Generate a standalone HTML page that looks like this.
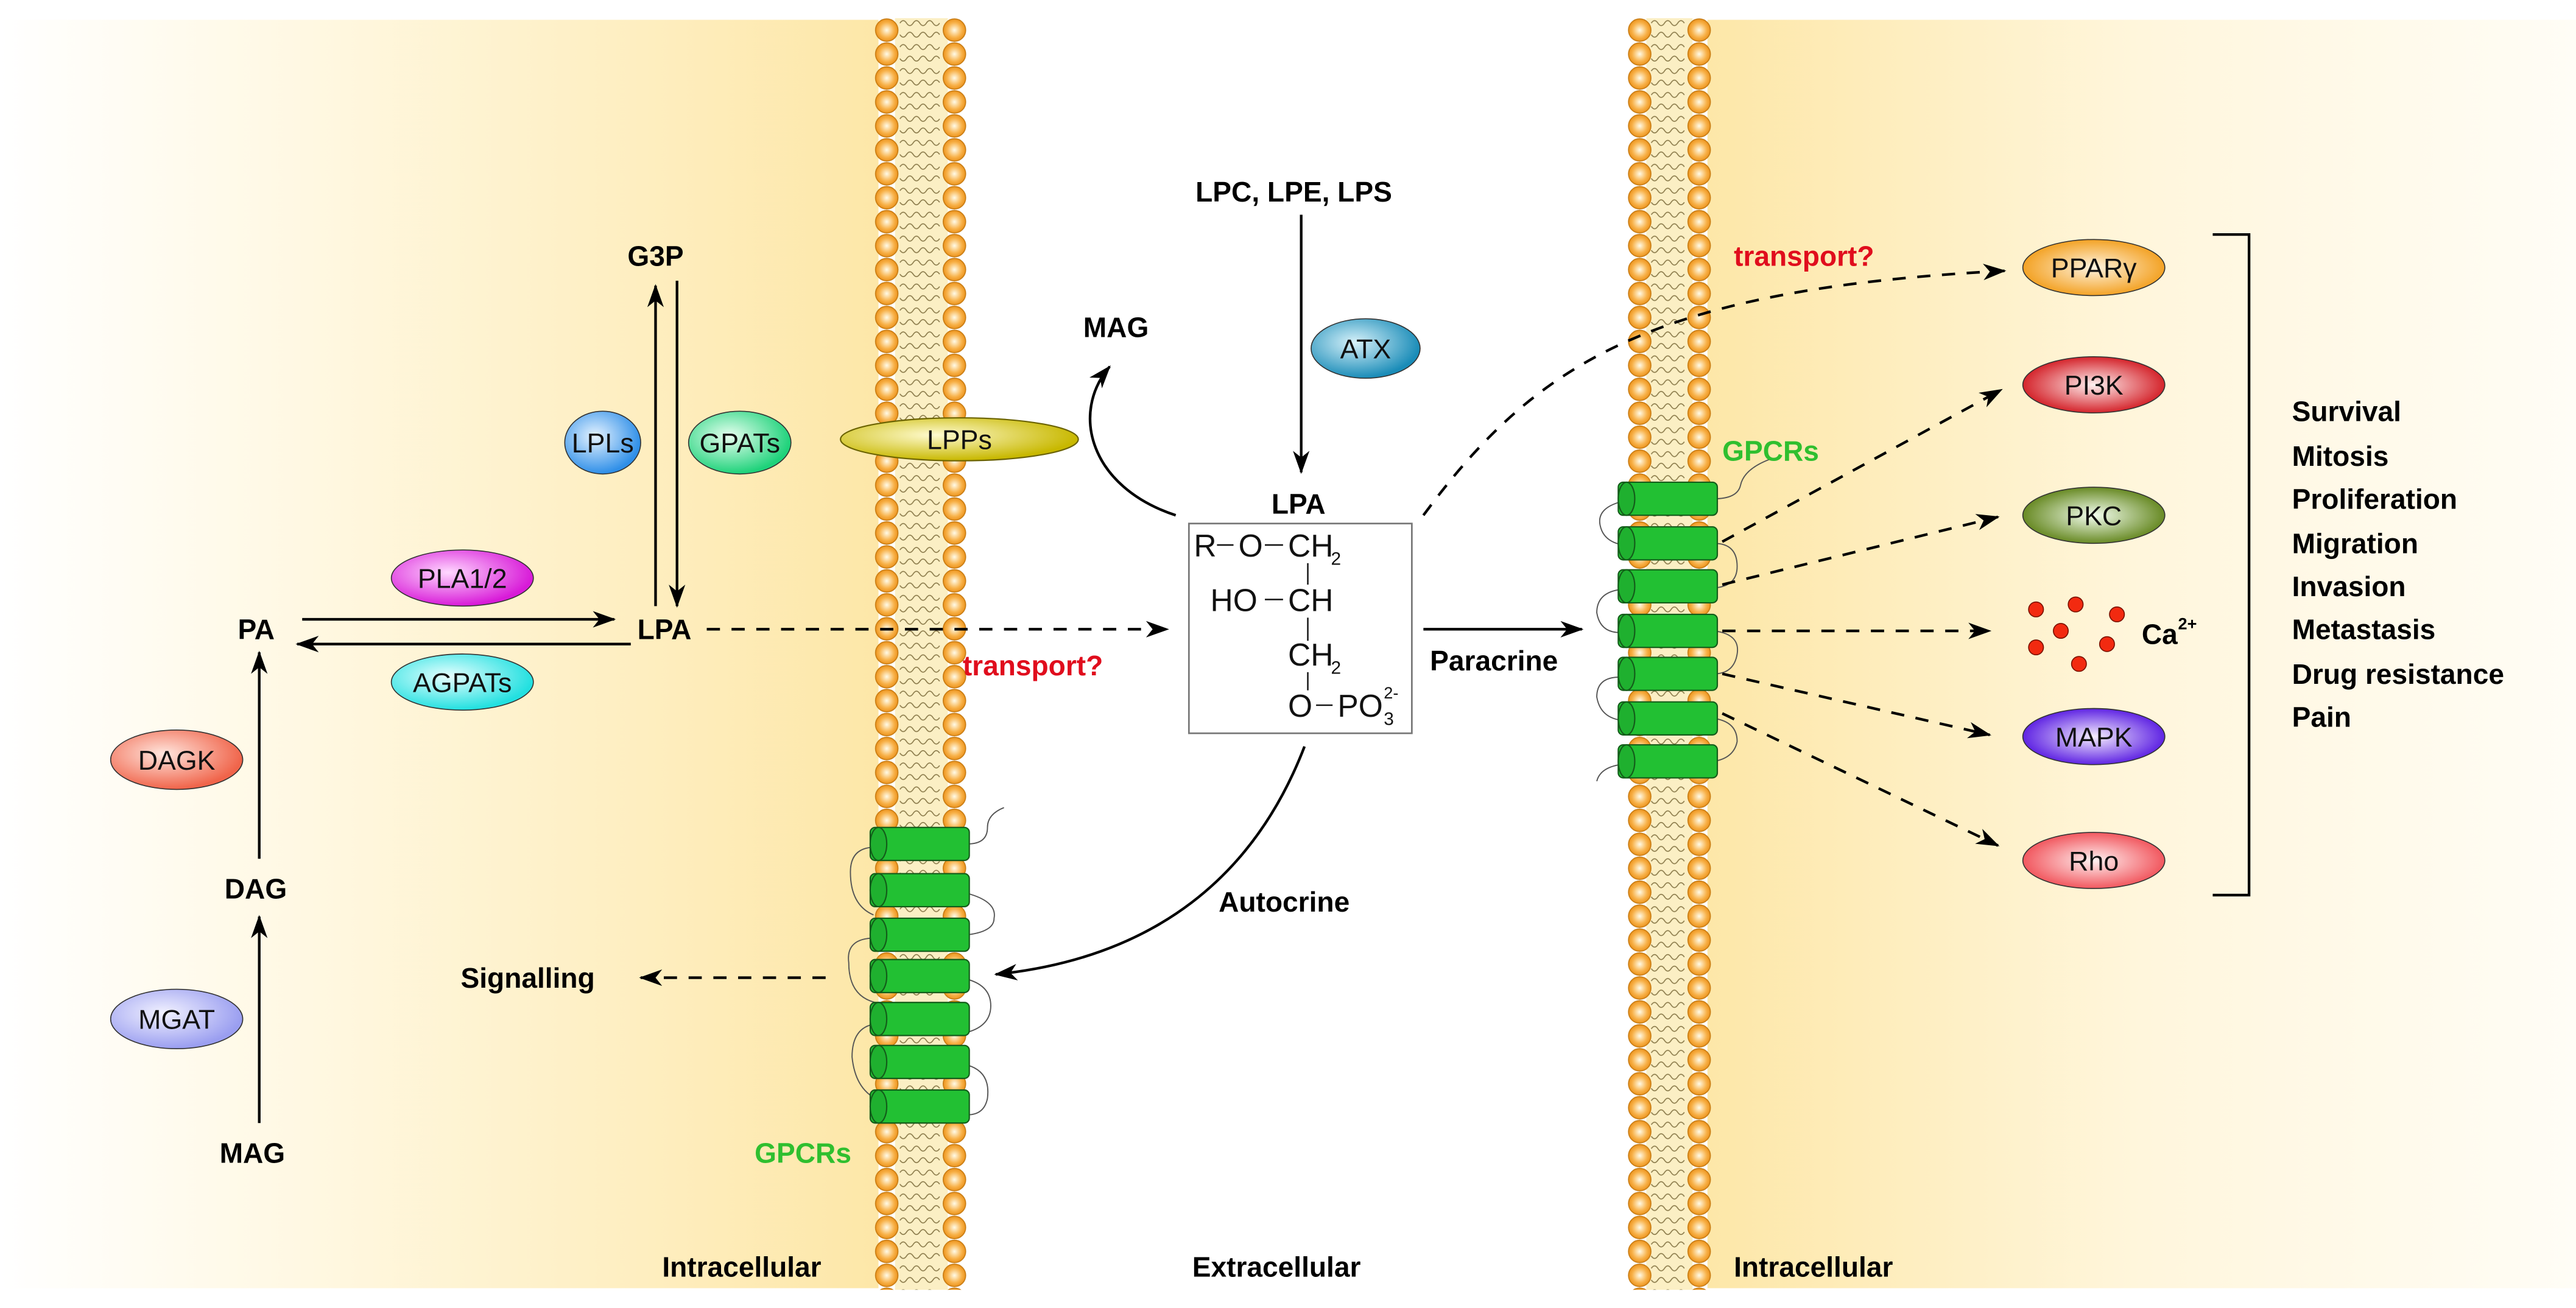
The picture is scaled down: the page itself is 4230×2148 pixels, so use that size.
<!DOCTYPE html>
<html><head><meta charset="utf-8"><style>
html,body{margin:0;padding:0;background:#fff;}
svg{display:block;}
text{font-family:"Liberation Sans",sans-serif;}
.b{font-weight:bold;font-size:17px;fill:#000;}
.e{font-size:16.5px;fill:#111;text-anchor:middle;}
.r{font-weight:bold;font-size:17px;fill:#e00d1d;}
.g{font-weight:bold;font-size:17px;fill:#2fbf2f;}
.ln{stroke:#000;stroke-width:1.6;fill:none;}
.dl{stroke:#000;stroke-width:1.6;fill:none;stroke-dasharray:8 7;}
.lp{stroke:#555;stroke-width:0.7;fill:none;}
</style></head><body>
<svg width="4230" height="2148" viewBox="0 0 1560 792" preserveAspectRatio="none" xmlns="http://www.w3.org/2000/svg">
<defs>
<linearGradient id="bgL" x1="0" x2="1" y1="0" y2="0">
<stop offset="0" stop-color="#fff" stop-opacity="1"/><stop offset="0.35" stop-color="#fff8e2"/><stop offset="1" stop-color="#fde7a8"/>
</linearGradient>
<linearGradient id="bgR" x1="0" x2="1" y1="0" y2="0">
<stop offset="0" stop-color="#fde7a8"/><stop offset="0.5" stop-color="#fff6dc"/><stop offset="1" stop-color="#fffdf6"/>
</linearGradient>
<radialGradient id="ball" cx="0.5" cy="0.5" r="0.55">
<stop offset="0" stop-color="#fffbe8"/><stop offset="0.6" stop-color="#f8b24a"/><stop offset="1" stop-color="#e88a10"/>
</radialGradient>
<pattern id="memL" x="528" y="11" width="60" height="14.5" patternUnits="userSpaceOnUse">
<rect x="14" y="0" width="32" height="14.5" fill="#fbefc4"/>
<path d="M17 3 q2 -3 4 0 t4 0 t4 0 t4 0 t4 0 t4 0 M17 10 q2 3 4 0 t4 0 t4 0 t4 0 t4 0 t4 0" stroke="#8a7a4a" stroke-width="0.6" fill="none"/>
<circle cx="9" cy="7.25" r="6.8" fill="url(#ball)" stroke="#c77a10" stroke-width="0.6"/>
<circle cx="50" cy="7.25" r="6.8" fill="url(#ball)" stroke="#c77a10" stroke-width="0.6"/>
</pattern>
<pattern id="memR" x="985" y="11" width="52" height="14.5" patternUnits="userSpaceOnUse">
<rect x="12" y="0" width="28" height="14.5" fill="#fbefc4"/>
<path d="M15 3 q2 -3 4 0 t4 0 t4 0 t4 0 t4 0 M15 10 q2 3 4 0 t4 0 t4 0 t4 0 t4 0" stroke="#8a7a4a" stroke-width="0.6" fill="none"/>
<circle cx="8" cy="7.25" r="6.8" fill="url(#ball)" stroke="#c77a10" stroke-width="0.6"/>
<circle cx="44" cy="7.25" r="6.8" fill="url(#ball)" stroke="#c77a10" stroke-width="0.6"/>
</pattern>
<g id="cyl">
<rect x="0" y="-10" width="60" height="20" rx="3" fill="#22c033" stroke="#145c1a" stroke-width="0.8"/>
<ellipse cx="5" cy="0" rx="5" ry="10" fill="#1fb02f" stroke="#145c1a" stroke-width="0.8"/>
</g>
<marker id="ah" viewBox="0 0 14 10" refX="13" refY="5" markerWidth="14" markerHeight="10" markerUnits="userSpaceOnUse" orient="auto">
<path d="M0 0 L14 5 L0 10 L4 5 z" fill="#000"/>
</marker>
<radialGradient id="gBlue" cx="0.4" cy="0.4" r="0.6"><stop offset="0" stop-color="#e6f3ff"/><stop offset="1" stop-color="#2f8fe8"/></radialGradient>
<radialGradient id="gGreen" cx="0.4" cy="0.4" r="0.6"><stop offset="0" stop-color="#e8fff0"/><stop offset="1" stop-color="#1ed27a"/></radialGradient>
<radialGradient id="gMag" cx="0.4" cy="0.4" r="0.6"><stop offset="0" stop-color="#ffd8ff"/><stop offset="1" stop-color="#d81ad8"/></radialGradient>
<radialGradient id="gCyan" cx="0.4" cy="0.4" r="0.6"><stop offset="0" stop-color="#e8ffff"/><stop offset="1" stop-color="#22e0e0"/></radialGradient>
<radialGradient id="gSalm" cx="0.4" cy="0.4" r="0.6"><stop offset="0" stop-color="#ffe6de"/><stop offset="1" stop-color="#f0644a"/></radialGradient>
<radialGradient id="gLav" cx="0.4" cy="0.4" r="0.6"><stop offset="0" stop-color="#f2f2ff"/><stop offset="1" stop-color="#9a9ef0"/></radialGradient>
<radialGradient id="gOlive" cx="0.4" cy="0.4" r="0.6"><stop offset="0" stop-color="#fffbd0"/><stop offset="1" stop-color="#c8b800"/></radialGradient>
<radialGradient id="gTeal" cx="0.4" cy="0.4" r="0.6"><stop offset="0" stop-color="#d8f2fa"/><stop offset="1" stop-color="#1a8cb8"/></radialGradient>
<radialGradient id="gOr" cx="0.5" cy="0.5" r="0.55"><stop offset="0" stop-color="#fff4e0"/><stop offset="1" stop-color="#f29a12"/></radialGradient>
<radialGradient id="gRed" cx="0.5" cy="0.5" r="0.55"><stop offset="0" stop-color="#fff0f0"/><stop offset="1" stop-color="#d01018"/></radialGradient>
<radialGradient id="gPkc" cx="0.5" cy="0.5" r="0.55"><stop offset="0" stop-color="#f4fff0"/><stop offset="1" stop-color="#5a7e10"/></radialGradient>
<radialGradient id="gPur" cx="0.5" cy="0.5" r="0.55"><stop offset="0" stop-color="#f6eeff"/><stop offset="1" stop-color="#5010e0"/></radialGradient>
<radialGradient id="gPink" cx="0.5" cy="0.5" r="0.55"><stop offset="0" stop-color="#fff2f2"/><stop offset="1" stop-color="#f04850"/></radialGradient>
</defs>

<rect x="0" y="12" width="532" height="768" fill="url(#bgL)"/>
<rect x="1034" y="12" width="526" height="768" fill="url(#bgR)"/>

<rect x="528" y="11" width="60" height="770" fill="url(#memL)"/>
<rect x="985" y="11" width="52" height="770" fill="url(#memR)"/>

<path class="lp" d="M530 513 q-15 0 -15 15 q0 20 14 26 M530 568 q-18 0 -16 15 q0 20 16 24 M530 620 q-14 2 -14 20 q2 20 16 26"/>
<path class="lp" d="M586 511 q12 0 12 -10 q0 -8 10 -12 M586 541 q18 5 16 15 q0 8 -16 10 M586 593 q14 4 14 16 q0 12 -14 16 M586 645 q14 4 12 20 q-2 10 -12 10"/>
<use href="#cyl" x="527" y="511"/><use href="#cyl" x="527" y="539"/><use href="#cyl" x="527" y="566"/>
<use href="#cyl" x="527" y="591"/><use href="#cyl" x="527" y="617"/><use href="#cyl" x="527" y="643"/><use href="#cyl" x="527" y="670"/>

<path class="lp" d="M1038 302 q14 0 16 -8 q2 -10 18 -16 M981 304 q-14 4 -12 14 q2 10 14 12 M1038 329 q14 0 14 14 q0 12 -14 13 M981 357 q-14 2 -14 14 q2 12 14 12 M1038 382 q16 2 14 14 q-2 12 -14 12 M981 410 q-14 0 -14 12 q2 12 14 14 M1038 435 q14 2 14 14 q-2 10 -14 12 M981 463 q-12 2 -14 10"/>
<use href="#cyl" x="980" y="302"/><use href="#cyl" x="980" y="329"/><use href="#cyl" x="980" y="355"/>
<use href="#cyl" x="980" y="382"/><use href="#cyl" x="980" y="408"/><use href="#cyl" x="980" y="435"/><use href="#cyl" x="980" y="461"/>

<ellipse cx="581" cy="266" rx="72" ry="13" fill="url(#gOlive)" stroke="#6a6200" stroke-width="0.8"/>
<text class="e" x="581" y="272">LPPs</text>

<line class="ln" x1="397" y1="367" x2="397" y2="173" marker-end="url(#ah)"/>
<line class="ln" x1="410" y1="170" x2="410" y2="367" marker-end="url(#ah)"/>
<line class="ln" x1="183" y1="375" x2="372" y2="375" marker-end="url(#ah)"/>
<line class="ln" x1="382" y1="390" x2="180" y2="390" marker-end="url(#ah)"/>
<line class="ln" x1="157" y1="520" x2="157" y2="395" marker-end="url(#ah)"/>
<line class="ln" x1="157" y1="680" x2="157" y2="555" marker-end="url(#ah)"/>
<line class="dl" x1="428" y1="381" x2="707" y2="381" marker-end="url(#ah)"/>
<line class="dl" x1="500" y1="592" x2="388" y2="592" marker-end="url(#ah)"/>

<line class="ln" x1="788" y1="130" x2="788" y2="286" marker-end="url(#ah)"/>
<path class="ln" d="M712 312 C 660 295, 648 250, 672 222" marker-end="url(#ah)"/>
<line class="ln" x1="862" y1="381" x2="958" y2="381" marker-end="url(#ah)"/>
<path class="ln" d="M790 452 C 760 530, 700 580, 603 590" marker-end="url(#ah)"/>
<path class="dl" d="M862 312 C 930 220, 1000 175, 1214 164" marker-end="url(#ah)"/>

<line class="dl" x1="1043" y1="328" x2="1212" y2="236" marker-end="url(#ah)"/>
<line class="dl" x1="1043" y1="354" x2="1210" y2="313" marker-end="url(#ah)"/>
<line class="dl" x1="1043" y1="382" x2="1205" y2="382" marker-end="url(#ah)"/>
<line class="dl" x1="1043" y1="408" x2="1205" y2="445" marker-end="url(#ah)"/>
<line class="dl" x1="1043" y1="432" x2="1210" y2="512" marker-end="url(#ah)"/>

<rect x="720" y="317" width="135" height="127" fill="#fff" stroke="#777" stroke-width="1"/>
<g font-family="Liberation Sans, sans-serif" font-size="19" fill="#111">
<text x="723" y="337">R</text><line x1="737" y1="330" x2="747" y2="330" stroke="#111" stroke-width="0.9"/>
<text x="750" y="337">O</text><line x1="766" y1="330" x2="777" y2="330" stroke="#111" stroke-width="0.9"/>
<text x="780" y="337">CH</text><text x="806" y="342" font-size="11">2</text>
<line x1="792" y1="341" x2="792" y2="354" stroke="#111" stroke-width="0.9"/>
<text x="733" y="370">HO</text><line x1="766" y1="363" x2="777" y2="363" stroke="#111" stroke-width="0.9"/>
<text x="780" y="370">CH</text>
<line x1="792" y1="374" x2="792" y2="388" stroke="#111" stroke-width="0.9"/>
<text x="780" y="403">CH</text><text x="806" y="408" font-size="11">2</text>
<line x1="792" y1="407" x2="792" y2="418" stroke="#111" stroke-width="0.9"/>
<text x="780" y="434">O</text><line x1="797" y1="427" x2="807" y2="427" stroke="#111" stroke-width="0.9"/>
<text x="810" y="434">PO</text><text x="838" y="439" font-size="11">3</text><text x="838" y="423" font-size="10">2-</text>
</g>

<ellipse cx="365" cy="268" rx="23" ry="19" fill="url(#gBlue)" stroke="#333" stroke-width="0.6"/><text class="e" x="365" y="274">LPLs</text>
<ellipse cx="448" cy="268" rx="31" ry="19" fill="url(#gGreen)" stroke="#333" stroke-width="0.6"/><text class="e" x="448" y="274">GPATs</text>
<ellipse cx="280" cy="350" rx="43" ry="17" fill="url(#gMag)" stroke="#333" stroke-width="0.6"/><text class="e" x="280" y="356">PLA1/2</text>
<ellipse cx="280" cy="413" rx="43" ry="17" fill="url(#gCyan)" stroke="#333" stroke-width="0.6"/><text class="e" x="280" y="419">AGPATs</text>
<ellipse cx="107" cy="460" rx="40" ry="18" fill="url(#gSalm)" stroke="#333" stroke-width="0.6"/><text class="e" x="107" y="466">DAGK</text>
<ellipse cx="107" cy="617" rx="40" ry="18" fill="url(#gLav)" stroke="#333" stroke-width="0.6"/><text class="e" x="107" y="623">MGAT</text>
<ellipse cx="827" cy="211" rx="33" ry="18" fill="url(#gTeal)" stroke="#333" stroke-width="0.6"/><text class="e" x="827" y="217">ATX</text>

<ellipse cx="1268" cy="162" rx="43" ry="17" fill="url(#gOr)" stroke="#333" stroke-width="0.6"/><text class="e" x="1268" y="168">PPARγ</text>
<ellipse cx="1268" cy="233" rx="43" ry="17" fill="url(#gRed)" stroke="#333" stroke-width="0.6"/><text class="e" x="1268" y="239">PI3K</text>
<ellipse cx="1268" cy="312" rx="43" ry="17" fill="url(#gPkc)" stroke="#333" stroke-width="0.6"/><text class="e" x="1268" y="318">PKC</text>
<ellipse cx="1268" cy="446" rx="43" ry="17" fill="url(#gPur)" stroke="#333" stroke-width="0.6"/><text class="e" x="1268" y="452">MAPK</text>
<ellipse cx="1268" cy="521" rx="43" ry="17" fill="url(#gPink)" stroke="#333" stroke-width="0.6"/><text class="e" x="1268" y="527">Rho</text>
<g fill="#f22a10" stroke="#7a1000" stroke-width="0.6">
<circle cx="1233" cy="369" r="4.5"/><circle cx="1257" cy="366" r="4.5"/><circle cx="1282" cy="372" r="4.5"/>
<circle cx="1248" cy="382" r="4.5"/><circle cx="1276" cy="390" r="4.5"/><circle cx="1233" cy="392" r="4.5"/><circle cx="1259" cy="402" r="4.5"/>
</g>
<text class="b" x="1297" y="390">Ca</text><text x="1319" y="381" font-weight="bold" font-size="10">2+</text>

<path d="M1340 142 H1362 V542 H1340" stroke="#000" stroke-width="1.6" fill="none"/>

<text class="b" x="380" y="161">G3P</text>
<text class="b" x="144" y="387">PA</text>
<text class="b" x="386" y="387">LPA</text>
<text class="b" x="136" y="544">DAG</text>
<text class="b" x="133" y="704">MAG</text>
<text class="b" x="279" y="598">Signalling</text>
<text class="g" x="457" y="704">GPCRs</text>
<text class="b" x="401" y="773">Intracellular</text>
<text class="b" x="722" y="773">Extracellular</text>
<text class="b" x="1050" y="773">Intracellular</text>
<text class="b" x="656" y="204">MAG</text>
<text class="b" x="724" y="122">LPC, LPE, LPS</text>
<text class="b" x="770" y="311">LPA</text>
<text class="r" x="583" y="409">transport?</text>
<text class="r" x="1050" y="161">transport?</text>
<text class="g" x="1043" y="279">GPCRs</text>
<text class="b" x="866" y="406">Paracrine</text>
<text class="b" x="738" y="552">Autocrine</text>
<text class="b" x="1388" y="255">Survival</text>
<text class="b" x="1388" y="282">Mitosis</text>
<text class="b" x="1388" y="308">Proliferation</text>
<text class="b" x="1388" y="335">Migration</text>
<text class="b" x="1388" y="361">Invasion</text>
<text class="b" x="1388" y="387">Metastasis</text>
<text class="b" x="1388" y="414">Drug resistance</text>
<text class="b" x="1388" y="440">Pain</text>
</svg>
</body></html>
